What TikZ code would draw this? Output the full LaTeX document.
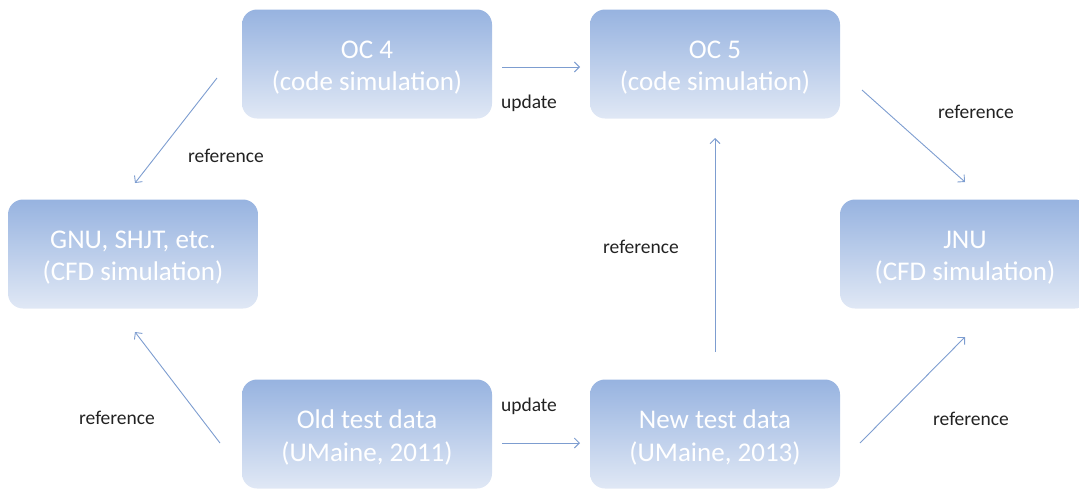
\documentclass[tikz,border=0pt]{standalone}
\usepackage{fontspec}
\setmainfont{Carlito}
\usetikzlibrary{arrows.meta}
\definecolor{boxtop}{HTML}{97B3E0}
\definecolor{boxbot}{HTML}{E0E8F5}
\definecolor{arr}{HTML}{7D9DD0}
\definecolor{lbl}{HTML}{222222}
\tikzset{
  box/.style={rounded corners=15pt, top color=boxtop, bottom color=boxbot, draw=none,
    minimum width=250pt, minimum height=109pt, inner sep=0pt,
    label={[boxtext]center:{#1}}},
  boxtext/.style={align=center, text=white, inner sep=0pt, yshift=-3.5pt,
    font=\fontsize{27}{32.5}\selectfont},
  conn/.style={draw=arr, line width=0.9pt, -{Straight Barb[length=5pt,width=10pt]}},
  lab/.style={text=lbl, font=\fontsize{19.5}{22}\selectfont, inner sep=0pt}
}
\begin{document}
\begin{tikzpicture}[x=1pt,y=-1pt]
\useasboundingbox (0,0) rectangle (1079,491);
\node[box={OC 4\\(code simulation)}] (oc4) at (367,64) {};
\node[box={OC 5\\(code simulation)}] (oc5) at (715,64) {};
\node[box={GNU, SHJT, etc.\\(CFD simulation)}] (gnu) at (133,254) {};
\node[box={JNU\\(CFD simulation)}] (jnu) at (965,254) {};
\node[box={Old test data\\(UMaine, 2011)}] (old) at (367,434) {};
\node[box={New test data\\(UMaine, 2013)}] (new) at (715,434) {};
\coordinate (a1s) at (502,67); \coordinate (a1e) at (580,67);
\coordinate (a2s) at (217,78); \coordinate (a2e) at (135,183);
\coordinate (a3s) at (862,90); \coordinate (a3e) at (965,182);
\coordinate (a4s) at (715,352); \coordinate (a4e) at (715,138);
\coordinate (a5s) at (220,443); \coordinate (a5e) at (135,332);
\coordinate (a6s) at (502,443); \coordinate (a6e) at (580,443);
\coordinate (a7s) at (860,443); \coordinate (a7e) at (965,337);
\draw[conn] (a1s) -- (a1e);
\draw[conn] (a2s) -- (a2e);
\draw[conn] (a3s) -- (a3e);
\draw[conn] (a4s) -- (a4e);
\draw[conn] (a5s) -- (a5e);
\draw[conn] (a6s) -- (a6e);
\draw[conn] (a7s) -- (a7e);
\node[lab] (l1) at (529,103) {update};
\node[lab] (l2) at (226,156) {reference};
\node[lab] (l3) at (976,112) {reference};
\node[lab] (l4) at (641,247) {reference};
\node[lab] (l5) at (117,418) {reference};
\node[lab] (l6) at (529,406) {update};
\node[lab] (l7) at (971,419) {reference};
\end{tikzpicture}
\end{document}
